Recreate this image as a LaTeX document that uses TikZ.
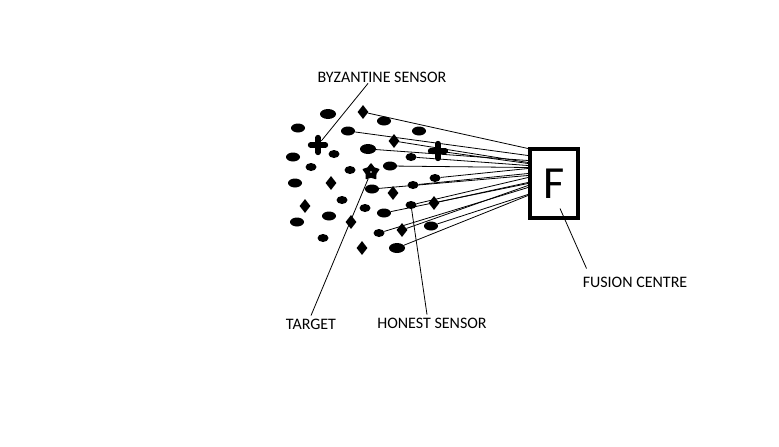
\documentclass[tikz,border=0pt]{standalone}
\usepackage{fontspec}
\setmainfont{Carlito}
\usetikzlibrary{shapes.geometric,shapes.misc}

\begin{document}
\begin{tikzpicture}[x=1pt,y=-1pt,
  hon/.style={ellipse,fill=black,inner sep=0pt,minimum width=14pt,minimum height=9pt},
  honbig/.style={hon,minimum width=16pt,minimum height=10pt},
  honsmall/.style={hon,minimum width=11pt,minimum height=8pt},
  byzd/.style={diamond,fill=black,inner sep=0pt,minimum width=11pt,minimum height=14pt},
  byzp/.style={cross out,draw=black,line width=5.5pt,line cap=round,minimum size=5pt,rotate=45,inner sep=0pt},
  tgt/.style={star,star points=5,star point ratio=1.6,draw=black,fill=black,line width=1.5pt,line join=round,inner sep=0pt,minimum size=16pt},
  lbl/.style={font=\fontsize{16}{18}\selectfont,inner sep=0pt},
  link/.style={line width=0.8pt}]
\useasboundingbox (0,0) rectangle (779,447);

% honest sensors:
\node[honbig] (e1) at (328,114) {};
\node[hon] (e2) at (384,121) {};
\node[hon] (e3) at (298,128) {};
\node[hon] (e4) at (348,131) {};
\node[hon] (e5) at (419,131) {};
\node[honbig] (e6) at (368,149) {};
\node[hon] (e7) at (293,157) {};
\node[honsmall] (e8) at (334,154) {};
\node[honsmall] (e9) at (411,157) {};
\node[honsmall] (e10) at (311,167) {};
\node[honsmall] (e11) at (350,170) {};
\node[hon] (e12) at (390,166) {};
\node[honsmall] (e13) at (435,178) {};
\node[honsmall] (e14) at (413,185) {};
\node[hon] (e15) at (295,183) {};
\node[hon] (e16) at (372,189) {};
\node[honsmall] (e17) at (342,200) {};
\node[honsmall] (e18) at (365,208) {};
\node[honsmall] (e19) at (411,205) {};
\node[hon] (e20) at (329,216) {};
\node[hon] (e21) at (384,213) {};
\node[hon] (e22) at (297,222) {};
\node[honsmall] (e23) at (379,233) {};
\node[hon] (e24) at (431,226) {};
\node[honsmall] (e25) at (323,238) {};
\node[honbig] (e26) at (397,248) {};

% byzantine sensors:
\node[byzd] (d1) at (363,112) {};
\node[byzd] (d2) at (394,141) {};
\node[byzd] (d3) at (331,183) {};
\node[byzd] (d4) at (393,193) {};
\node[byzd] (d5) at (305,206) {};
\node[byzd] (d6) at (351,222) {};
\node[byzd] (d7) at (402,230) {};
\node[byzd] (d8) at (362,248) {};
\node[byzd] (d9) at (434,203) {};
\node[byzp] (p1) at (318,145) {};
\node[byzp] (p2) at (438,151) {};

% target:
\node[tgt] (star) at (371,172) {};
\fill[white] (star) circle (0.9pt);

% fusion centre:
\node[draw=black,line width=4pt,minimum width=48pt,minimum height=69pt,inner sep=0pt,
  font=\fontsize{46}{50}\selectfont] (F) at (554,183.5) {F};

\foreach \s/\d in {d1/35,e4/28,e6/23,d2/21,p2/20,e9/18,e12/16,e13/15,e14/10,e16/8,
  e19/6,d9/1,e21/0,d7/-2,e23/-4,e24/-11,e26/-12}
  \draw[link] (\s) -- ([yshift=\d pt]F.west);

% labels:
\node[lbl] (byzl) at (382,77) {BYZANTINE SENSOR};
\node[lbl] (tgtl) at (311,324) {TARGET};
\node[lbl] (honl) at (432,323) {HONEST SENSOR};
\node[lbl] (fusl) at (635,282) {FUSION CENTRE};

\draw[link] ([xshift=-14pt,yshift=-1pt]byzl.south) -- (p1);
\draw[link] ([yshift=3pt]tgtl.north) -- (star);
\draw[link] ([xshift=-5pt,yshift=3pt]honl.north) -- (e19);
\draw[link] ([xshift=4pt,yshift=8pt]fusl.north west) -- ([xshift=6pt,yshift=-25pt]F.center);

\end{tikzpicture}
\end{document}
